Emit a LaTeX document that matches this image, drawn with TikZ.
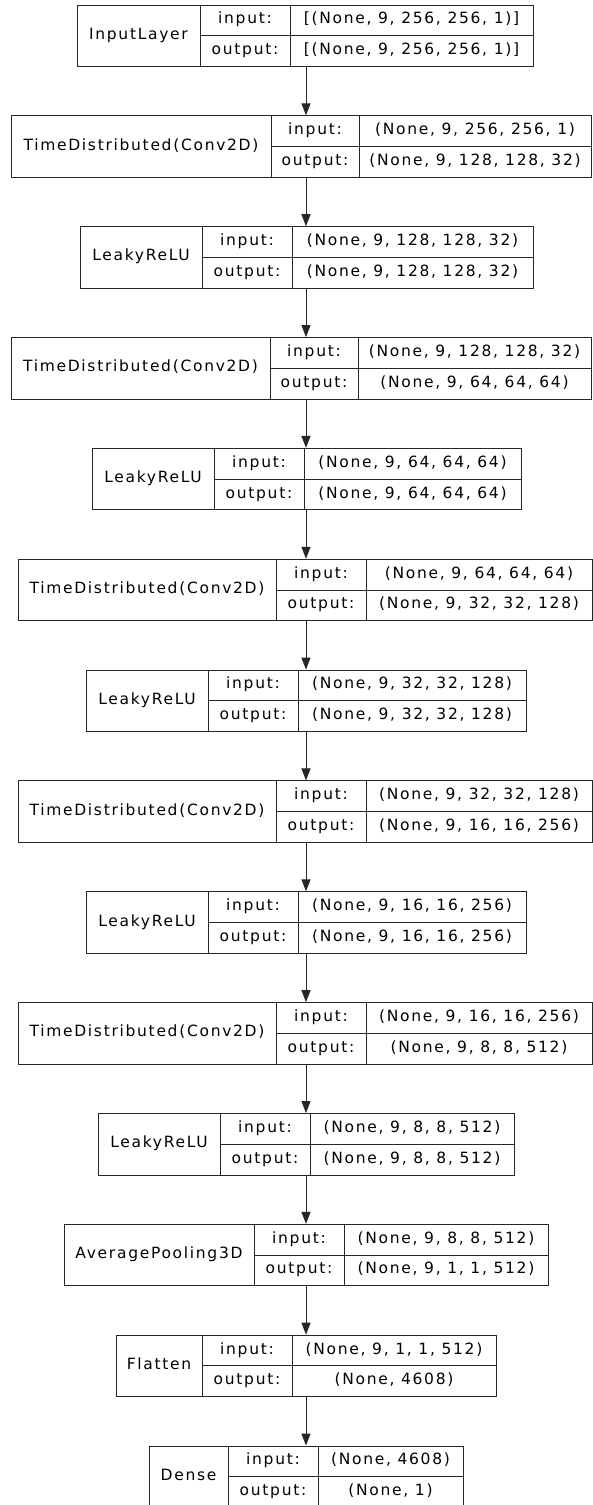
\documentclass[tikz,border=0pt]{standalone}
\usepackage{fontspec}
\setmainfont{DejaVu Sans}[LetterSpace=11]
\usetikzlibrary{arrows.meta}
\tikzset{
  cell/.style={draw=black!85, line width=1pt, inner sep=0pt,
    text height=11pt, text depth=4pt, text=black,
    font=\fontsize{15.5}{18}\selectfont},
  flow/.style={draw=black!85, line width=1pt,
    -{Triangle[length=12pt,width=9pt]}}
}
% One Keras layer record: #1 index, #2 left, #3 first divider,
% #4 second divider, #5 right, #6 layer name, #7 input shape, #8 output shape
\newcommand\kerasrow[8]{%
  \pgfmathsetmacro\rowtop{5+110.85*#1}%
  \node[cell, minimum width={(#3-#2)*1pt}, minimum height=61.5pt]
    (n#1) at ({(#2+#3)/2},{\rowtop+30.75}) {#6};
  \node[cell, minimum width={(#4-#3)*1pt}, minimum height=30.75pt]
    (i#1) at ({(#3+#4)/2},{\rowtop+15.375}) {input:};
  \node[cell, minimum width={(#4-#3)*1pt}, minimum height=30.75pt]
    (o#1) at ({(#3+#4)/2},{\rowtop+46.125}) {output:};
  \node[cell, minimum width={(#5-#4)*1pt}, minimum height=30.75pt]
    (vi#1) at ({(#4+#5)/2},{\rowtop+15.375}) {#7};
  \node[cell, minimum width={(#5-#4)*1pt}, minimum height=30.75pt]
    (vo#1) at ({(#4+#5)/2},{\rowtop+46.125}) {#8};
}
\begin{document}
\begin{tikzpicture}[x=1pt, y=-1pt]
\useasboundingbox[fill=white] (0,0) rectangle (593,1505);
\coordinate (axis) at (306,0);
\kerasrow{0}{77}{200}{290}{533}{InputLayer}{[(None, 9, 256, 256, 1)]}{[(None, 9, 256, 256, 1)]}
\kerasrow{1}{11}{271}{359}{591}{TimeDistributed(Conv2D)}{(None, 9, 256, 256, 1)}{(None, 9, 128, 128, 32)}
\kerasrow{2}{80}{202}{292}{533}{LeakyReLU}{(None, 9, 128, 128, 32)}{(None, 9, 128, 128, 32)}
\kerasrow{3}{11}{270}{358}{591}{TimeDistributed(Conv2D)}{(None, 9, 128, 128, 32)}{(None, 9, 64, 64, 64)}
\kerasrow{4}{92}{214}{304}{521}{LeakyReLU}{(None, 9, 64, 64, 64)}{(None, 9, 64, 64, 64)}
\kerasrow{5}{18}{276}{366}{592}{TimeDistributed(Conv2D)}{(None, 9, 64, 64, 64)}{(None, 9, 32, 32, 128)}
\kerasrow{6}{86}{208}{298}{526}{LeakyReLU}{(None, 9, 32, 32, 128)}{(None, 9, 32, 32, 128)}
\kerasrow{7}{18}{276}{366}{592}{TimeDistributed(Conv2D)}{(None, 9, 32, 32, 128)}{(None, 9, 16, 16, 256)}
\kerasrow{8}{86}{208}{298}{526}{LeakyReLU}{(None, 9, 16, 16, 256)}{(None, 9, 16, 16, 256)}
\kerasrow{9}{18}{276}{366}{592}{TimeDistributed(Conv2D)}{(None, 9, 16, 16, 256)}{(None, 9, 8, 8, 512)}
\kerasrow{10}{98}{220}{310}{514}{LeakyReLU}{(None, 9, 8, 8, 512)}{(None, 9, 8, 8, 512)}
\kerasrow{11}{64}{254}{344}{548}{AveragePooling3D}{(None, 9, 8, 8, 512)}{(None, 9, 1, 1, 512)}
\kerasrow{12}{116}{202}{292}{496}{Flatten}{(None, 9, 1, 1, 512)}{(None, 4608)}
\kerasrow{13}{149}{228}{318}{463}{Dense}{(None, 4608)}{(None, 1)}
% connectors between consecutive layers
\foreach \k [evaluate=\k as \j using int(\k+1)] in {0,...,12}
  \draw[flow] (o\k.south -| axis) -- (n\j.north -| axis);
\end{tikzpicture}
\end{document}
